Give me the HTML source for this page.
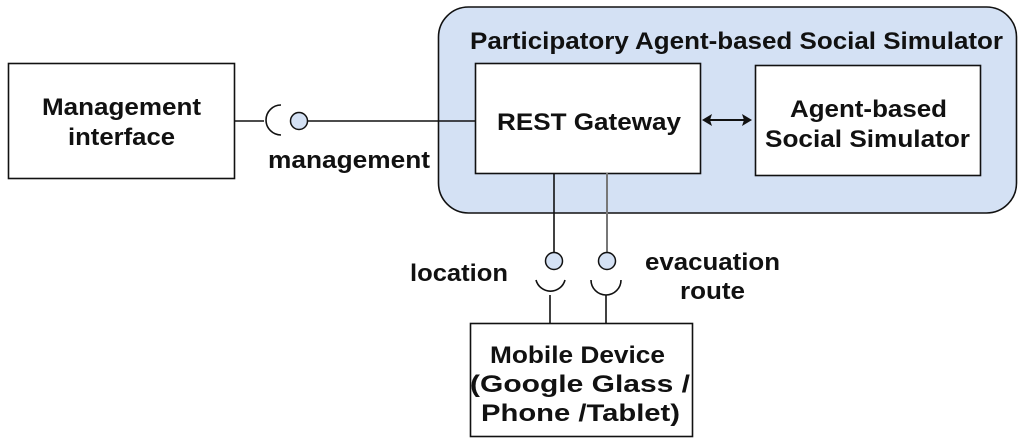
<!DOCTYPE html>
<html><head><meta charset="utf-8"><style>
html,body{margin:0;padding:0;background:#fff;width:1024px;height:444px;overflow:hidden}
svg text{font-family:"Liberation Sans",Arial,sans-serif;font-weight:bold;fill:#111}
</style></head><body>
<svg width="1024" height="444" viewBox="0 0 1024 444" xmlns="http://www.w3.org/2000/svg">
<rect x="438.5" y="7" width="578" height="206" rx="30" fill="#d4e1f4" stroke="#111" stroke-width="1.6"/>
<text x="470" y="49" font-size="24" textLength="533" lengthAdjust="spacingAndGlyphs">Participatory Agent-based Social Simulator</text>
<rect x="475.5" y="63.5" width="225" height="110" fill="#fff" stroke="#111" stroke-width="1.6"/>
<text x="497" y="130" font-size="24" textLength="184" lengthAdjust="spacingAndGlyphs">REST Gateway</text>
<rect x="755.5" y="65.5" width="225" height="110" fill="#fff" stroke="#111" stroke-width="1.6"/>
<text x="790" y="117" font-size="24" textLength="157" lengthAdjust="spacingAndGlyphs">Agent-based</text>
<text x="765" y="147" font-size="24" textLength="205" lengthAdjust="spacingAndGlyphs">Social Simulator</text>
<rect x="8.5" y="63.5" width="226" height="115" fill="#fff" stroke="#111" stroke-width="1.6"/>
<text x="42" y="115" font-size="24" textLength="159" lengthAdjust="spacingAndGlyphs">Management</text>
<text x="68" y="145" font-size="24" textLength="107" lengthAdjust="spacingAndGlyphs">interface</text>
<rect x="470.5" y="323.5" width="222" height="113" fill="#fff" stroke="#111" stroke-width="1.6"/>
<text x="490" y="363" font-size="24" textLength="175" lengthAdjust="spacingAndGlyphs">Mobile Device</text>
<text x="470" y="392" font-size="24" textLength="220" lengthAdjust="spacingAndGlyphs">(Google Glass /</text>
<text x="481" y="421" font-size="24" textLength="199" lengthAdjust="spacingAndGlyphs">Phone /Tablet)</text>
<line x1="234" y1="121" x2="264" y2="121" stroke="#111" stroke-width="1.6"/>
<path d="M281,105 A15,15 0 0 0 281,135" fill="none" stroke="#111" stroke-width="1.6"/>
<circle cx="299" cy="121" r="8.5" fill="#d4e1f4" stroke="#111" stroke-width="1.5"/>
<line x1="308" y1="121" x2="475" y2="121" stroke="#111" stroke-width="1.6"/>
<text x="268" y="168" font-size="24" textLength="162" lengthAdjust="spacingAndGlyphs">management</text>
<line x1="708" y1="120" x2="746" y2="120" stroke="#111" stroke-width="2"/>
<path d="M702,120 L712,114 L710,120 L712,126 Z" fill="#111"/>
<path d="M752,120 L742,114 L744,120 L742,126 Z" fill="#111"/>
<line x1="554" y1="173" x2="554" y2="252" stroke="#111" stroke-width="1.6"/>
<circle cx="554" cy="261" r="8.5" fill="#d4e1f4" stroke="#111" stroke-width="1.5"/>
<path d="M536,280 A15,15 0 0 0 565,280" fill="none" stroke="#111" stroke-width="1.6"/>
<line x1="550" y1="295" x2="550" y2="323" stroke="#111" stroke-width="1.6"/>
<text x="410" y="281" font-size="24" textLength="98" lengthAdjust="spacingAndGlyphs">location</text>
<line x1="607" y1="173" x2="607" y2="252" stroke="#777" stroke-width="2"/>
<circle cx="607" cy="261" r="8.5" fill="#d4e1f4" stroke="#111" stroke-width="1.5"/>
<path d="M591,280 A15,15 0 0 0 621,280" fill="none" stroke="#111" stroke-width="1.6"/>
<line x1="606" y1="295" x2="606" y2="323" stroke="#111" stroke-width="1.6"/>
<text x="645" y="270" font-size="24" textLength="135" lengthAdjust="spacingAndGlyphs">evacuation</text>
<text x="680" y="299" font-size="24" textLength="65" lengthAdjust="spacingAndGlyphs">route</text>
</svg>
</body></html>
